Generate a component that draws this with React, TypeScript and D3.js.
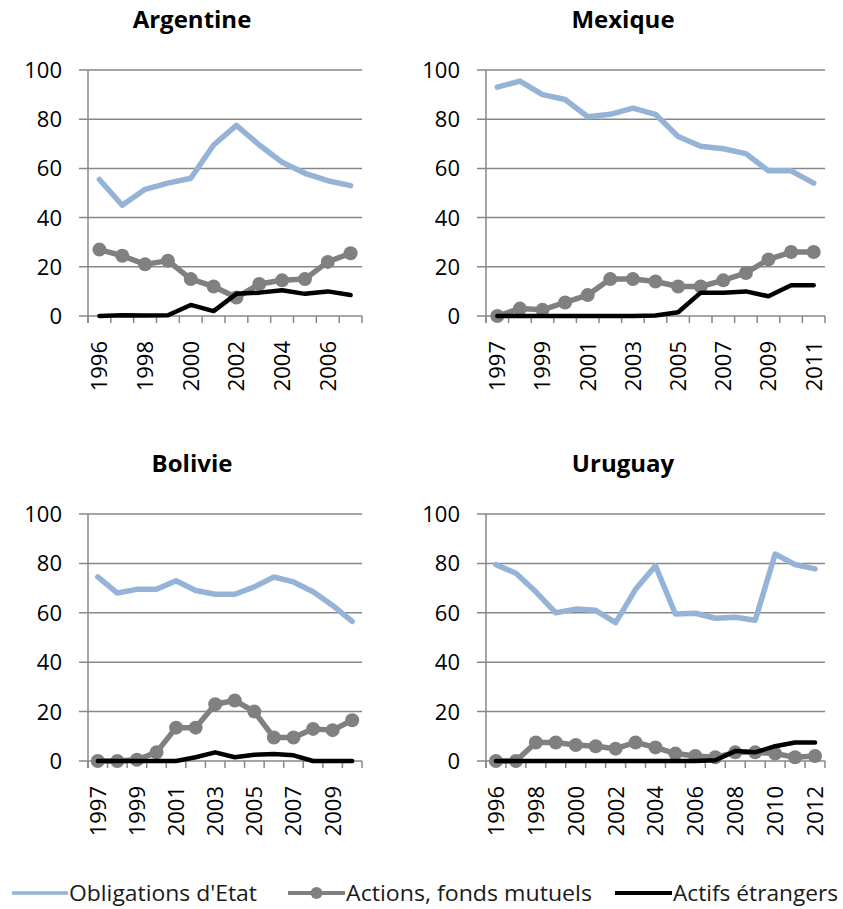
import React from "react";
import * as d3 from "d3";

// ---------- DATA ----------
const argYears = [1996, 1997, 1998, 1999, 2000, 2001, 2002, 2003, 2004, 2005, 2006, 2007];
const argGov = [55.5, 45, 51.5, 54, 56, 69.5, 77.5, 69.5, 62.5, 58, 55, 53];
const argEq = [27, 24.5, 21, 22.5, 15, 12, 7.5, 13, 14.5, 15, 22, 25.5];
const argFor = [0, 0.3, 0.2, 0.3, 4.5, 2, 9, 9.5, 10.5, 9, 10, 8.5];

const mexYears = [1997, 1998, 1999, 2000, 2001, 2002, 2003, 2004, 2005, 2006, 2007, 2008, 2009, 2010, 2011];
const mexGov = [93, 95.5, 90, 88, 81, 82, 84.5, 82, 73, 69, 68, 66, 59, 59, 54];
const mexEq = [0, 3, 2.5, 5.5, 8.5, 15, 15, 14, 12, 12, 14.5, 17.5, 23, 26, 26];
const mexFor = [0, 0, 0, 0, 0, 0, 0, 0.2, 1.5, 9.5, 9.5, 10, 8, 12.5, 12.5];

const bolYears = [1997, 1998, 1999, 2000, 2001, 2002, 2003, 2004, 2005, 2006, 2007, 2008, 2009, 2010];
const bolGov = [74.5, 68, 69.5, 69.5, 73, 69, 67.5, 67.5, 70.5, 74.5, 72.5, 68.5, 63, 56.5];
const bolEq = [0, 0, 0.5, 3.5, 13.5, 13.5, 23, 24.5, 20, 9.5, 9.5, 13, 12.5, 16.5];
const bolFor = [0, 0, 0, 0, 0, 1.5, 3.5, 1.5, 2.5, 2.8, 2.3, 0, 0, 0];

const uruYears = [1996, 1997, 1998, 1999, 2000, 2001, 2002, 2003, 2004, 2005, 2006, 2007, 2008, 2009, 2010, 2011, 2012];
const uruGov = [79.5, 76, 68.5, 60, 61.5, 61, 56, 69.5, 79, 59.5, 59.8, 57.8, 58.2, 57, 83.8, 79.5, 77.8];
const uruEq = [0, 0, 7.5, 7.5, 6.5, 6, 5, 7.5, 5.5, 3, 2, 1.5, 3.5, 3.5, 3, 1.5, 2];
const uruFor = [0, 0, 0, 0, 0, 0, 0, 0, 0, 0, 0, 0.3, 4, 3.5, 6, 7.5, 7.5];

const yTicks = [0, 20, 40, 60, 80, 100];
const seriesNames = ["Obligations d'Etat", "Actions, fonds mutuels", "Actifs étrangers"];

// ---------- STYLE ----------
const BLUE = "#95B3D7";
const GRAY = "#808080";
const BLACK = "#000000";
const GRID = "#878787";
const FONT = "'Open Sans', 'Noto Sans', sans-serif";

type PanelProps = {
  title: string;
  years: number[];
  gov: number[];
  eq: number[];
  fo: number[];
  x0: number;
  x1: number;
  yTop: number;
  yBot: number;
  titleX: number;
  titleY: number;
};

function Panel({ title, years, gov, eq, fo, x0, x1, yTop, yBot, titleX, titleY }: PanelProps) {
  const x = d3.scaleBand<number>().domain(years).range([x0, x1]).padding(0);
  const y = d3.scaleLinear().domain([0, 100]).range([yBot, yTop]);
  const cx = (yr: number) => (x(yr) as number) + x.bandwidth() / 2;
  const line = d3
    .line<number>()
    .x((_, i) => cx(years[i]))
    .y((v) => y(v));
  const boundaries = years.map((yr) => x(yr) as number).concat([x1]);

  return (
    <g>
      <text x={titleX} y={titleY} textAnchor="middle" fontFamily={FONT} fontWeight="bold" fontSize={24} fill="#000">
        {title}
      </text>
      {yTicks.map((t) => (
        <g key={t}>
          <line x1={x0 - 9} x2={x1} y1={y(t)} y2={y(t)} stroke={GRID} strokeWidth={1.5} />
          <text
            x={x0 - 26}
            y={y(t)}
            dy="0.36em"
            textAnchor="end"
            fontFamily={FONT}
            fontSize={22}
            fill="#000"
          >
            {t}
          </text>
        </g>
      ))}
      <line x1={x0} x2={x0} y1={yTop} y2={yBot + 7} stroke={GRID} strokeWidth={1.5} />
      {boundaries.map((b, i) => (
        <line key={i} x1={b} x2={b} y1={yBot} y2={yBot + 7} stroke={GRID} strokeWidth={1.5} />
      ))}
      {years.map((yr, i) =>
        i % 2 === 0 ? (
          <text
            key={yr}
            transform={`translate(${cx(yr)},${yBot + 25}) rotate(-90)`}
            dy="0.36em"
            textAnchor="end"
            fontFamily={FONT}
            fontSize={22}
            fill="#000"
          >
            {yr}
          </text>
        ) : null
      )}
      <path d={line(gov) || ""} fill="none" stroke={BLUE} strokeWidth={5.5} strokeLinejoin="round" strokeLinecap="round" />
      <path d={line(eq) || ""} fill="none" stroke={GRAY} strokeWidth={5.5} strokeLinejoin="round" strokeLinecap="round" />
      {eq.map((v, i) => (
        <circle key={i} cx={cx(years[i])} cy={y(v)} r={7} fill={GRAY} />
      ))}
      <path d={line(fo) || ""} fill="none" stroke={BLACK} strokeWidth={4.5} strokeLinejoin="round" strokeLinecap="round" />
    </g>
  );
}

function Legend() {
  const items = [
    { name: seriesNames[0], color: BLUE, w: 3.5, marker: false, lx0: 12, lx1: 68, tx: 69, tl: 188 },
    { name: seriesNames[1], color: GRAY, w: 4, marker: true, lx0: 288, lx1: 345, tx: 346, tl: 246 },
    { name: seriesNames[2], color: BLACK, w: 4, marker: false, lx0: 615, lx1: 672, tx: 673, tl: 165 },
  ];
  const ly = 893;
  return (
    <g>
      {items.map((it) => (
        <g key={it.name}>
          <line x1={it.lx0} x2={it.lx1} y1={ly} y2={ly} stroke={it.color} strokeWidth={it.w} />
          {it.marker ? <circle cx={(it.lx0 + it.lx1) / 2} cy={ly} r={6} fill={it.color} /> : null}
          <text
            x={it.tx}
            y={ly + 8}
            fontFamily={FONT}
            fontSize={22}
            fill="#1a1a1a"
            textLength={it.tl}
            lengthAdjust="spacingAndGlyphs"
          >
            {it.name}
          </text>
        </g>
      ))}
    </g>
  );
}

export default function App() {
  return (
    <svg
      width={843}
      height={909}
      style={{ position: "absolute", left: 0, top: 0, background: "#fff" }}
    >
      <rect width={843} height={909} fill="#fff" />
      <Panel title="Argentine" years={argYears} gov={argGov} eq={argEq} fo={argFor} x0={88} x1={362} yTop={70} yBot={316} titleX={192} titleY={28} />
      <Panel title="Mexique" years={mexYears} gov={mexGov} eq={mexEq} fo={mexFor} x0={486} x1={825} yTop={70} yBot={316} titleX={623} titleY={28} />
      <Panel title="Bolivie" years={bolYears} gov={bolGov} eq={bolEq} fo={bolFor} x0={88} x1={362} yTop={514} yBot={761} titleX={192} titleY={472} />
      <Panel title="Uruguay" years={uruYears} gov={uruGov} eq={uruEq} fo={uruFor} x0={486} x1={825} yTop={514} yBot={761} titleX={623} titleY={472} />
      <Legend />
    </svg>
  );
}
